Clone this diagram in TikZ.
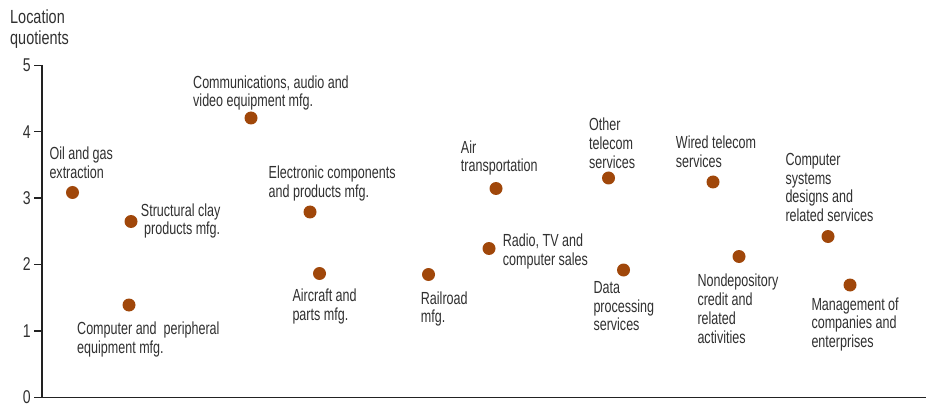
\documentclass[tikz,border=0pt]{standalone}
\usepackage{fontspec}
\setmainfont{Liberation Sans}[FakeStretch=0.717]
\newfontfamily\ttlfont{Liberation Sans}[FakeStretch=0.76]
\definecolor{dotc}{HTML}{A0470A}
\definecolor{txt}{HTML}{303030}
\definecolor{axc}{HTML}{222222}
\newcommand\lblstrut{\rule{0pt}{14pt}}
\newcommand\ttlstrut{\rule{0pt}{15pt}}
\tikzset{
  dot/.style={circle, fill=dotc, draw=none, minimum size=13pt, inner sep=0pt},
  lbl/.style={anchor=north west, inner sep=0pt, align=left, text=txt,
    font=\fontsize{17.5}{18.7}\selectfont, yshift=14pt},
  ttl/.style={anchor=north west, inner sep=0pt, align=left, text=txt,
    font=\ttlfont\fontsize{19}{21}\selectfont, yshift=15pt},
  ticklbl/.style={anchor=east, inner sep=0pt, text=txt, font=\ttlfont\fontsize{18.5}{20}\selectfont},
  axis/.style={draw=axc, line width=1.5pt},
  tick/.style={draw=axc, line width=1.3pt}
}
\begin{document}
\begin{tikzpicture}[x=1pt, y=-1pt]
\useasboundingbox (0,0) rectangle (926,406);
% axes
\coordinate (top) at (42,65);
\coordinate (orig) at (42,397.3);
\coordinate (right) at (926,397.3);
\draw[axis] (top) -- (orig) -- (right);
\foreach \v/\yy in {0/397.3,1/330.9,2/264.5,3/198.1,4/131.7,5/65.3}{
  \coordinate (t\v) at (42,\yy);
  \coordinate (tl\v) at (34,\yy);
  \draw[tick] (tl\v) -- (t\v);
  \node[ticklbl] (n\v) at (31,\yy) {\v};
}
\node[ttl] (title) at (10,23.3) {\ttlstrut Location\\quotients};
% dots
\node[dot] (d1) at (72.5,192.5) {};
\node[dot] (d2) at (131,221.5) {};
\node[dot] (d3) at (129,305) {};
\node[dot] (d4) at (251,118) {};
\node[dot] (d5) at (310,212) {};
\node[dot] (d6) at (319.5,273.5) {};
\node[dot] (d7) at (428.5,274.5) {};
\node[dot] (d8) at (496,188.5) {};
\node[dot] (d9) at (489,248.5) {};
\node[dot] (d10) at (608.5,178) {};
\node[dot] (d11) at (623.5,270) {};
\node[dot] (d12) at (713,182) {};
\node[dot] (d13) at (739,256.5) {};
\node[dot] (d14) at (828,236.5) {};
\node[dot] (d15) at (850,285) {};
% labels
\node[lbl] (l1) at (49.3,159.3) {\lblstrut Oil and gas\\extraction};
\node[lbl] (l2) at (140.7,216) {\lblstrut Structural clay\\\hspace*{3.3pt}products mfg.};
\node[lbl] (l3) at (77,334.3) {\lblstrut Computer and\ \ peripheral\\equipment mfg.};
\node[lbl] (l4) at (193,88) {\lblstrut Communications, audio and\\video equipment mfg.};
\node[lbl] (l5) at (268.5,178.5) {\lblstrut Electronic components\\and products mfg.};
\node[lbl] (l6) at (292.3,301.7) {\lblstrut Aircraft and\\parts mfg.};
\node[lbl] (l7) at (420.7,304) {\lblstrut Railroad\\mfg.};
\node[lbl] (l8) at (460.7,153) {\lblstrut Air\\transportation};
\node[lbl] (l9) at (502.7,246.7) {\lblstrut Radio, TV and\\computer sales};
\node[lbl] (l10) at (589,130.7) {\lblstrut Other\\telecom\\services};
\node[lbl] (l11) at (593.3,293.3) {\lblstrut Data\\processing\\services};
\node[lbl] (l12) at (675.7,148.3) {\lblstrut Wired telecom\\services};
\node[lbl] (l13) at (697.3,286.7) {\lblstrut Nondepository\\credit and\\related\\activities};
\node[lbl] (l14) at (785.3,165.3) {\lblstrut Computer\\systems\\designs and\\related services};
\node[lbl] (l15) at (811.3,310) {\lblstrut Management of\\companies and\\enterprises};
\end{tikzpicture}
\end{document}
